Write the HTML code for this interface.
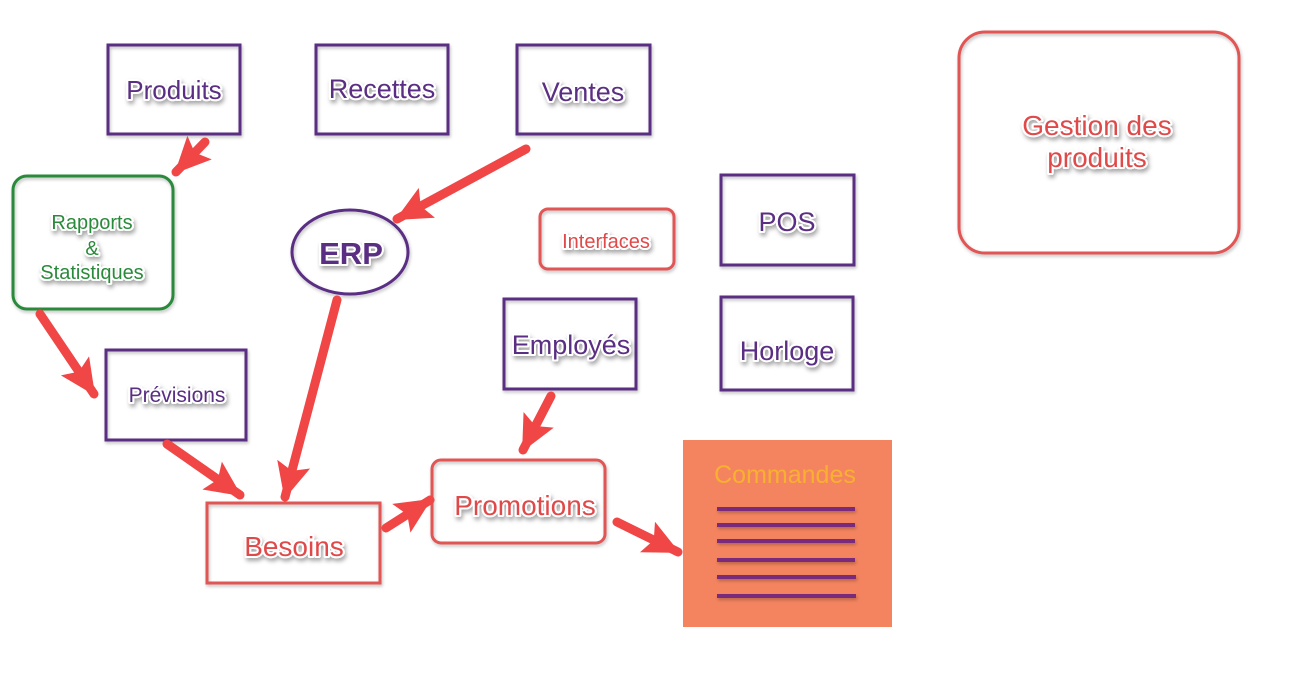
<!DOCTYPE html>
<html><head><meta charset="utf-8"><style>
html,body{margin:0;padding:0;background:#fff;}
svg{display:block;}
text{font-family:"Liberation Sans",Arial,sans-serif;text-anchor:middle;}
.t{paint-order:stroke;stroke:#fff;stroke-width:4px;stroke-linejoin:round;filter:url(#sh);}
</style></head><body>
<svg width="1300" height="695" viewBox="0 0 1300 695" xmlns="http://www.w3.org/2000/svg">
<defs>
<filter id="sh" x="-20%" y="-40%" width="140%" height="180%">
<feDropShadow dx="1.5" dy="3" stdDeviation="2" flood-color="#000" flood-opacity="0.35"/>
</filter>
<filter id="bs" x="-10%" y="-10%" width="120%" height="120%">
<feDropShadow dx="1" dy="2" stdDeviation="1.5" flood-color="#000" flood-opacity="0.25"/>
</filter>
<marker id="ah" markerUnits="userSpaceOnUse" markerWidth="44" markerHeight="44" refX="34" refY="17" orient="auto">
<path d="M0,0 L36,17 L0,34 L7,17 z" fill="#f04646"/>
</marker>
</defs>

<g fill="none" stroke-width="3" filter="url(#bs)">
<rect x="108" y="45" width="132" height="89" stroke="#5a2d82"/>
<rect x="316" y="45" width="132" height="89" stroke="#5a2d82"/>
<rect x="517" y="45" width="133" height="89" stroke="#5a2d82"/>
<rect x="13" y="176" width="160" height="133" rx="14" stroke="#2a8a3a"/>
<ellipse cx="350" cy="252" rx="58" ry="42" stroke="#5a2d82"/>
<rect x="540" y="209" width="134" height="60" rx="8" stroke="#e25555"/>
<rect x="721" y="175" width="133" height="90" stroke="#5a2d82"/>
<rect x="504" y="299" width="132" height="90" stroke="#5a2d82"/>
<rect x="721" y="297" width="132" height="93" stroke="#5a2d82"/>
<rect x="106" y="350" width="140" height="90" stroke="#5a2d82"/>
<rect x="207" y="503" width="173" height="80" stroke="#e25555"/>
<rect x="432" y="460" width="173" height="83" rx="9" stroke="#e25555"/>
<rect x="959" y="32" width="280" height="221" rx="26" stroke="#e25555"/>
</g>
<rect x="683" y="440" width="209" height="187" fill="#f4845f"/>
<g stroke="#7a2a7a" stroke-width="4" filter="url(#bs)">
<line x1="717" y1="509" x2="855" y2="509"/>
<line x1="717" y1="525" x2="855" y2="525"/>
<line x1="717" y1="541" x2="855" y2="541"/>
<line x1="717" y1="560" x2="855" y2="560"/>
<line x1="717" y1="577" x2="856" y2="577"/>
<line x1="717" y1="596" x2="856" y2="596"/>
</g>

<g stroke="#f04646" stroke-width="9" stroke-linecap="round" marker-end="url(#ah)">
<line x1="205" y1="142" x2="176" y2="172"/>
<line x1="526" y1="149" x2="397" y2="219"/>
<line x1="40" y1="314" x2="94" y2="394"/>
<line x1="337" y1="300" x2="285" y2="497"/>
<line x1="167" y1="444" x2="240" y2="495"/>
<line x1="386" y1="528" x2="430" y2="500"/>
<line x1="551" y1="396" x2="523" y2="450"/>
<line x1="617" y1="522" x2="678" y2="552"/>
</g>

<g class="t">
<text x="174" y="99" font-size="26" fill="#5a2d82">Produits</text>
<text x="382" y="98" font-size="27" fill="#5a2d82">Recettes</text>
<text x="583" y="101" font-size="27" fill="#5a2d82">Ventes</text>
<text x="92" y="229" font-size="20" fill="#2a8a3a">Rapports</text>
<text x="92" y="255" font-size="20" fill="#2a8a3a">&amp;</text>
<text x="92" y="279" font-size="20" fill="#2a8a3a">Statistiques</text>
<text x="351" y="264" font-size="31" font-weight="bold" fill="#5a2d82">ERP</text>
<text x="606" y="248" font-size="20" fill="#e04848">Interfaces</text>
<text x="787" y="231" font-size="27" fill="#5a2d82">POS</text>
<text x="571" y="354" font-size="27" fill="#5a2d82">Employés</text>
<text x="787" y="360" font-size="27" fill="#5a2d82">Horloge</text>
<text x="177" y="402" font-size="21" fill="#5a2d82">Prévisions</text>
<text x="294" y="556" font-size="28" fill="#e04848">Besoins</text>
<text x="525" y="515" font-size="28" fill="#e04848">Promotions</text>
<text x="1097" y="135" font-size="28" fill="#e04848">Gestion des</text>
<text x="1097" y="167" font-size="28" fill="#e04848">produits</text>
</g>
<text x="785" y="483" font-size="25" fill="#f7b030">Commandes</text>
</svg>
</body></html>
